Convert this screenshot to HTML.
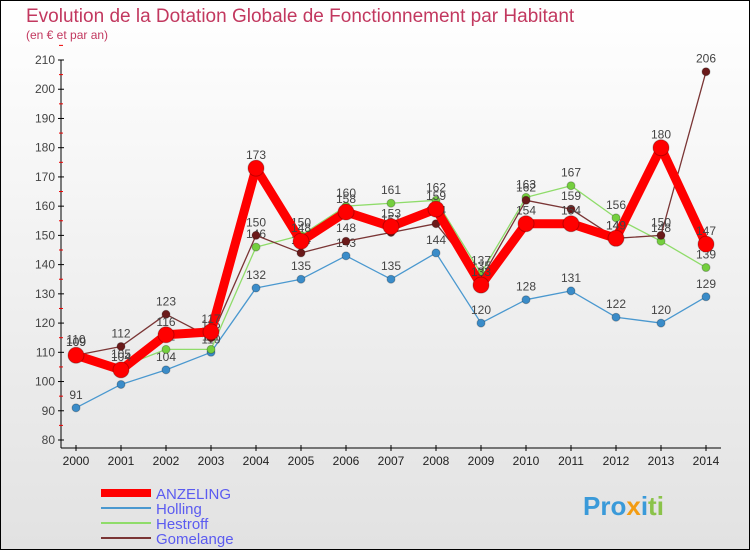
<!DOCTYPE html>
<html><head><meta charset="utf-8"><style>
body{margin:0;width:750px;height:550px;overflow:hidden;font-family:"Liberation Sans",sans-serif}
#wrap{position:relative;width:748px;height:548px;border:1px solid #000;background:linear-gradient(#fff,#e2e2e2)}
</style></head><body>
<div id="wrap">
<svg id="chart" width="748" height="548" style="position:absolute;left:0;top:0">
<text x="25" y="21" font-size="19" fill="#c2385f">Evolution de la Dotation Globale de Fonctionnement par Habitant</text>
<text x="25" y="38" font-size="12" fill="#c2385f">(en € et par an)</text>
<g id="axes"></g><g id="series"></g><g id="legend"></g>
<text x="582" y="514" font-size="26" font-weight="bold" fill="#3a9ad9">Pro<tspan fill="#f39c12">x</tspan><tspan fill="#3a9ad9">i</tspan><tspan fill="#8bc34a">ti</tspan></text>
</svg>
</div>
<script>
const years=["2000","2001","2002","2003","2004","2005","2006","2007","2008","2009","2010","2011","2012","2013","2014"];
const yTicks=[80,90,100,110,120,130,140,150,160,170,180,190,200,210];
const anzeling=[109,104,116,117,173,148,158,153,159,133,154,154,149,180,147];
const holling=[91,99,104,110,132,135,143,135,144,120,128,131,122,120,129];
const hestroff=[110,105,111,111,146,150,160,161,162,137,163,167,156,148,139];
const gomelange=[109,112,123,115,150,144,148,151,154,135,162,159,149,150,206];
const NS="http://www.w3.org/2000/svg";
const X=i=>75+i*45, Y=v=>439-(v-80)*380/130;
function mk(t,a,p){const e=document.createElementNS(NS,t);for(const k in a)e.setAttribute(k,a[k]);p.appendChild(e);return e;}
const ax=document.getElementById('axes');
const yl=mk('line',{x1:60,y1:Y(210),x2:60,y2:Y(80)+8,stroke:'#000'},ax);


const xl=mk('line',{x1:60,y1:Y(80)+8,x2:720,y2:Y(80)+8,stroke:'#000'},ax);


yTicks.forEach(v=>{
  mk('line',{x1:57,y1:Y(v),x2:63,y2:Y(v),stroke:'#000'},ax);
  mk('line',{x1:58,y1:Y(v+5),x2:62,y2:Y(v+5),stroke:'#e00'},ax);
  const t=mk('text',{x:54,y:Y(v)+4,'text-anchor':'end','font-size':12,fill:'#444'},ax);
  t.textContent=v;
  
  
});
years.forEach((y,i)=>{
  mk('line',{x1:X(i),y1:Y(80)+5,x2:X(i),y2:Y(80)+11,stroke:'#000'},ax);
  const t=mk('text',{x:X(i),y:Y(80)+25,'text-anchor':'middle','font-size':12,fill:'#222'},ax);
  t.textContent=y;
  
  
});
const sg=document.getElementById('series');
const series=[
 {n:'holling',d:holling,c:'#4a98cf',w:1.3,r:4,m:'#3a8cc9'},
 {n:'hestroff',d:hestroff,c:'#8fdc6a',w:1.3,r:4,m:'#74cf3e'},
 {n:'gomelange',d:gomelange,c:'#7a3535',w:1.3,r:4,m:'#6b1a1a'},
 {n:'anzeling',d:anzeling,c:'#f00',w:9,r:8,m:'#f00'}];
series.forEach(s=>{
  const g=mk('g',{},sg);
  
  
  const p=mk('polyline',{points:s.d.map((v,i)=>X(i)+','+Y(v)).join(' '),fill:'none',stroke:s.c,'stroke-width':s.w,'stroke-linejoin':'round'},g);
  
  
  s.d.forEach((v,i)=>{
    const c=mk('circle',{cx:X(i),cy:Y(v),r:s.r,fill:s.m,stroke:'rgba(0,0,0,0.25)'},g);
    
    
    const t=mk('text',{x:X(i),y:Y(v)-9,'text-anchor':'middle','font-size':12,fill:'#444'},g);
    t.textContent=v;
    
    
  });
});
const lg=document.getElementById('legend');
[['ANZELING','#f00',8],['Holling','#4a98cf',2],['Hestroff','#8fdc6a',2],['Gomelange','#7a3535',2]].forEach((l,i)=>{
  const y=492+i*15;
  const g=mk('g',{},lg);
  
  
  mk('line',{x1:100,y1:y,x2:150,y2:y,stroke:l[1],'stroke-width':l[2]},g);
  const t=mk('text',{x:155,y:y+6,'font-size':15,fill:'#5b5bf0'},g);
  t.textContent=l[0];
});
</script>
</body></html>
